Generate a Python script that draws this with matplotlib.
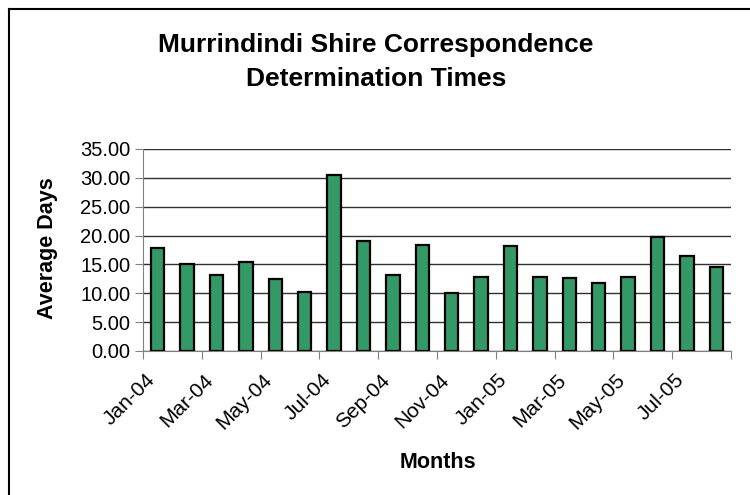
import numpy as np
import matplotlib.pyplot as plt
import matplotlib.transforms as mtransforms
from matplotlib.lines import Line2D

plt.rcParams['font.family'] = ['Liberation Sans', 'DejaVu Sans']

months = ["Jan-04", "Feb-04", "Mar-04", "Apr-04", "May-04", "Jun-04", "Jul-04",
          "Aug-04", "Sep-04", "Oct-04", "Nov-04", "Dec-04", "Jan-05", "Feb-05",
          "Mar-05", "Apr-05", "May-05", "Jun-05", "Jul-05", "Aug-05"]
avg_days = [17.9, 15.0, 13.2, 15.4, 12.4, 10.3, 30.5, 19.1, 13.1, 18.3,
            10.0, 12.9, 18.2, 12.9, 12.6, 11.8, 12.9, 19.7, 16.5, 14.5]
yticks = [0, 5, 10, 15, 20, 25, 30, 35]

fig = plt.figure(figsize=(7.5, 4.95), dpi=100)
ax = fig.add_axes([143/750, 1-351/495, 588/750, 202/495])

x = np.arange(len(months))
ax.bar(x, avg_days, width=0.45, color='#339966', edgecolor='black', linewidth=1.6, zorder=3)

ax.set_xlim(-0.5, len(months) - 0.5)
ax.set_ylim(0, 35)
ax.set_yticks(yticks)
ax.set_yticklabels(["%.2f" % v for v in yticks], fontsize=14.5)
ax.yaxis.grid(True, color='#303030', linewidth=1)
ax.set_axisbelow(True)

# category ticks every 2 months at boundaries, label on the boundary
bounds = np.arange(-0.5, len(months) - 1, 2)
ax.set_xticks(np.append(bounds, len(months) - 0.5))
labels = [months[int(b + 0.5)] for b in bounds] + [""]
ax.set_xticklabels(labels, rotation=45, ha='right', va='top',
                   rotation_mode='anchor', fontsize=15)
ax.tick_params(axis='x', length=6, color='#808080', pad=8)
ax.tick_params(axis='y', length=6, color='#808080', pad=3)
offset = mtransforms.ScaledTranslation(2/100, 0, fig.dpi_scale_trans)
for lab in ax.get_xticklabels():
    lab.set_transform(lab.get_transform() + offset)

for s in ['top', 'right']:
    ax.spines[s].set_visible(False)
for s in ['left', 'bottom']:
    ax.spines[s].set_color('#808080')

fig.text(376/750, 1-45/495, "Murrindindi Shire Correspondence", ha='center', va='center',
         fontsize=19, fontweight='bold')
fig.text(376/750, 1-79/495, "Determination Times", ha='center', va='center',
         fontsize=19, fontweight='bold')
fig.text(48/750, 1-248/495, "Average Days", rotation=90, ha='center', va='center',
         fontsize=15.5, fontweight='bold')
fig.text(438/750, 1-462/495, "Months", ha='center', va='center',
         fontsize=15.5, fontweight='bold')

# chart area border (left and top visible)
fig.add_artist(Line2D([8.5/750, 8.5/750], [0, 1-8.5/495], transform=fig.transFigure, color='black', lw=1.5))
fig.add_artist(Line2D([8.5/750, 1], [1-8.5/495, 1-8.5/495], transform=fig.transFigure, color='black', lw=1.5))

fig.savefig("out.png", dpi=100)
